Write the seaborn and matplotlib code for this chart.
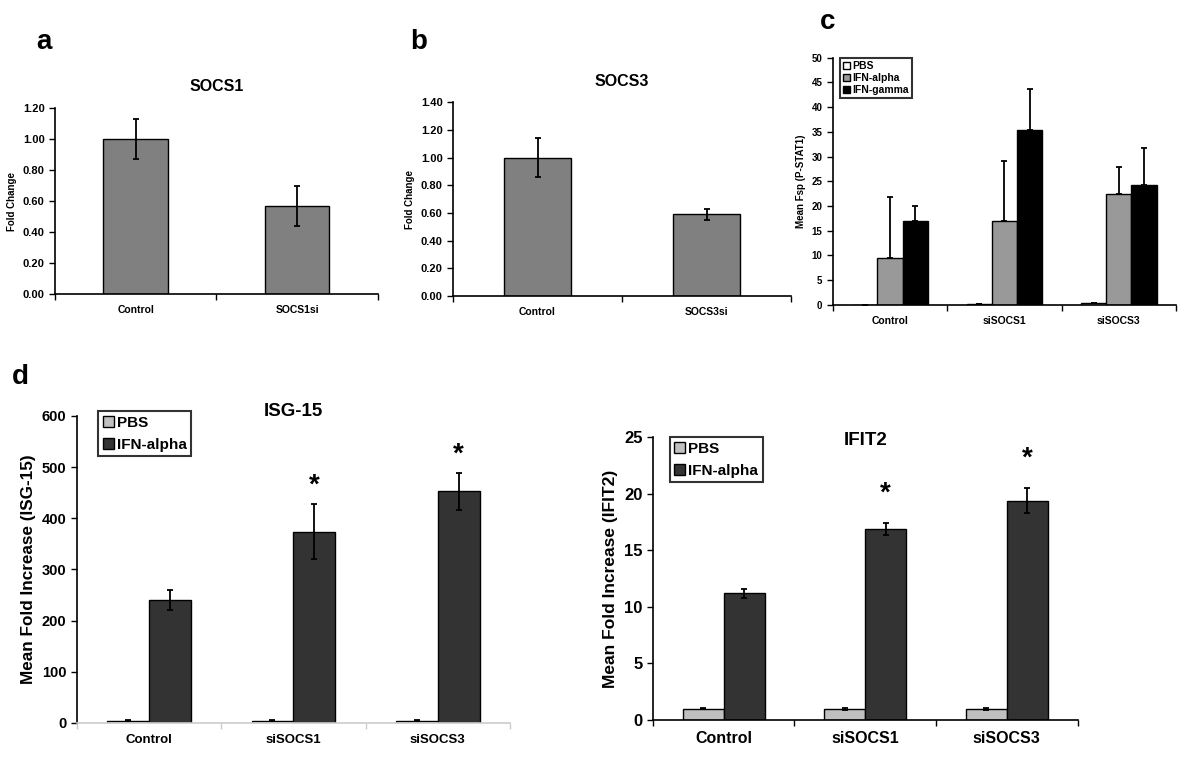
import matplotlib
matplotlib.use('Agg')
import matplotlib.pyplot as plt
import seaborn as sns
import pandas as pd
import numpy as np

sns.set_style('ticks', {'text.color': 'black', 'axes.labelcolor': 'black',
                        'xtick.color': 'black', 'ytick.color': 'black', 'axes.edgecolor': 'black'})
plt.rcParams['font.family'] = ['Liberation Sans', 'DejaVu Sans']
plt.rcParams['font.weight'] = 'bold'

# panel a
a_groups = ['Control', 'SOCS1si']
a_means = [1.00, 0.57]
a_err = [0.13, 0.13]
# panel b
b_groups = ['Control', 'SOCS3si']
b_means = [1.00, 0.59]
b_err = [0.14, 0.04]
# panel c
c_groups = ['Control', 'siSOCS1', 'siSOCS3']
c_treat = ['PBS', 'IFN-alpha', 'IFN-gamma']
c_pbs = [0.0, 0.1, 0.3]
c_alpha = [9.4, 17.0, 22.4]
c_gamma = [16.9, 35.3, 24.2]
c_pbs_err = [0.0, 0.0, 0.0]
c_alpha_err = [12.5, 12.2, 5.4]
c_gamma_err = [3.0, 8.4, 7.6]
# panel d
d_groups = ['Control', 'siSOCS1', 'siSOCS3']
d_treat = ['PBS', 'IFN-alpha']
isg_pbs = [4, 4, 4]
isg_alpha = [240, 374, 453]
isg_pbs_err = [1, 1, 1]
isg_alpha_err = [19, 54, 36]
ifit_pbs = [1.0, 1.0, 1.0]
ifit_alpha = [11.2, 16.9, 19.4]
ifit_pbs_err = [0.05, 0.1, 0.08]
ifit_alpha_err = [0.4, 0.5, 1.1]
star_flags = [False, True, True]


def style_axis(ax, n, tick_fs, xfs, bottom_color='black'):
    sns.despine(ax=ax)
    ax.spines['left'].set_linewidth(1.2)
    ax.spines['bottom'].set_linewidth(1.2)
    ax.spines['bottom'].set_color(bottom_color)
    ax.set_xlim(-0.5, n - 0.5)
    ax.set_xticks(np.arange(-0.5, n), minor=True)
    ax.tick_params(axis='x', which='major', length=0, labelsize=xfs, pad=8)
    ax.tick_params(axis='x', which='minor', bottom=True, length=4, direction='out', width=1, color=bottom_color)
    ax.tick_params(axis='y', length=4, direction='out', width=1, labelsize=tick_fs, left=True)
    for lab in ax.get_xticklabels() + ax.get_yticklabels():
        lab.set_fontweight('bold')
    ax.set_xlabel('')


def add_errors(ax, means, errs, upper_only=False):
    for cont, m, e in zip(ax.containers, means, errs):
        xs = [p.get_x() + p.get_width() / 2 for p in cont.patches]
        e = np.array(e)
        yerr = [np.zeros_like(e), e] if upper_only else e
        ax.errorbar(xs, m, yerr=yerr, fmt='none', ecolor='black', elinewidth=1.3, capsize=2.5, capthick=1.3, zorder=5)


def legend_box(ax, labels, colors, fs, loc_anchor, spacing=0.2):
    handles = [plt.Rectangle((0, 0), 1, 1, facecolor=c, edgecolor='black', lw=1) for c in colors]
    leg = ax.legend(handles, labels, loc='upper left', bbox_to_anchor=loc_anchor, fontsize=fs, frameon=True,
                    fancybox=False, handlelength=0.7, handleheight=0.7, handletextpad=0.2,
                    labelspacing=spacing, borderpad=0.3, borderaxespad=0)
    leg.get_frame().set_edgecolor('black')
    leg.get_frame().set_linewidth(1.5)
    for t in leg.get_texts():
        t.set_fontweight('bold')


fig = plt.figure(figsize=(12, 7.6), dpi=100)

# ---- a ----
ax = fig.add_axes([0.0458, 0.613, 0.269, 0.245])
df = pd.DataFrame({'group': a_groups, 'value': a_means})
sns.barplot(data=df, x='group', y='value', color='#808080', saturation=1, width=0.4, edgecolor='black', linewidth=1, ax=ax)
add_errors(ax, [a_means], [a_err])
ax.set_ylim(0, 1.2)
ax.set_yticks(np.arange(0, 1.21, 0.2))
ax.set_yticklabels([f'{v:.2f}' for v in np.arange(0, 1.21, 0.2)])
style_axis(ax, 2, 8, 7.5)
ax.set_ylabel('Fold Change', fontsize=7, fontweight='bold')
ax.set_title('SOCS1', fontsize=11.5, fontweight='bold', pad=12)
fig.text(0.03, 0.935, 'a', fontsize=20, fontweight='bold')

# ---- b ----
ax = fig.add_axes([0.3775, 0.6105, 0.2817, 0.255])
df = pd.DataFrame({'group': b_groups, 'value': b_means})
sns.barplot(data=df, x='group', y='value', color='#808080', saturation=1, width=0.4, edgecolor='black', linewidth=1, ax=ax)
add_errors(ax, [b_means], [b_err])
ax.set_ylim(0, 1.4)
ax.set_yticks(np.arange(0, 1.41, 0.2))
ax.set_yticklabels([f'{v:.2f}' for v in np.arange(0, 1.41, 0.2)])
style_axis(ax, 2, 8, 7.5)
ax.set_ylabel('Fold Change', fontsize=7, fontweight='bold')
ax.set_title('SOCS3', fontsize=11.5, fontweight='bold', pad=12)
fig.text(0.342, 0.935, 'b', fontsize=20, fontweight='bold')

# ---- c ----
ax = fig.add_axes([0.694, 0.599, 0.286, 0.325])
df = pd.DataFrame({'group': c_groups * 3,
                   'treat': sum([[t] * 3 for t in c_treat], []),
                   'value': c_pbs + c_alpha + c_gamma})
c_colors = ['white', '#999999', 'black']
sns.barplot(data=df, x='group', y='value', hue='treat', palette=c_colors, saturation=1, width=0.66,
            edgecolor='black', linewidth=1, ax=ax)
add_errors(ax, [c_pbs, c_alpha, c_gamma], [c_pbs_err, c_alpha_err, c_gamma_err], upper_only=True)
ax.set_ylim(0, 50)
ax.set_yticks(np.arange(0, 51, 5))
style_axis(ax, 3, 7, 7.5)
ax.set_ylabel('Mean Fsp (P-STAT1)', fontsize=7, fontweight='bold')
legend_box(ax, c_treat, c_colors, 7.5, (0.02, 1.0))
fig.text(0.683, 0.962, 'c', fontsize=20, fontweight='bold')

# ---- d: ISG-15 ----
d_colors = ['#c0c0c0', '#333333']
ax = fig.add_axes([0.064, 0.0487, 0.361, 0.404])
df = pd.DataFrame({'group': d_groups * 2,
                   'treat': sum([[t] * 3 for t in d_treat], []),
                   'value': isg_pbs + isg_alpha})
sns.barplot(data=df, x='group', y='value', hue='treat', palette=d_colors, saturation=1, width=0.58,
            edgecolor='black', linewidth=1, ax=ax)
add_errors(ax, [isg_pbs, isg_alpha], [isg_pbs_err, isg_alpha_err])
ax.set_ylim(0, 600)
ax.set_yticks(np.arange(0, 601, 100))
style_axis(ax, 3, 10.5, 9.5, bottom_color='#cccccc')
ax.set_ylabel('Mean Fold Increase (ISG-15)', fontsize=12.3, fontweight='bold')
ax.set_title('ISG-15', fontsize=13.5, fontweight='bold', y=1.016, va='center', pad=0)
legend_box(ax, d_treat, d_colors, 11, (0.05, 1.015), spacing=0.5)
for cont_x, m, e, s in zip(ax.containers[1].patches, isg_alpha, isg_alpha_err, star_flags):
    if s:
        ax.annotate('*', (cont_x.get_x() + cont_x.get_width() / 2, m + e), xytext=(0, 4),
                    textcoords='offset points', ha='center', va='bottom', fontsize=20, fontweight='bold')
fig.text(0.01, 0.495, 'd', fontsize=20, fontweight='bold')

# ---- d: IFIT2 ----
ax = fig.add_axes([0.544, 0.0526, 0.354, 0.372])
df = pd.DataFrame({'group': d_groups * 2,
                   'treat': sum([[t] * 3 for t in d_treat], []),
                   'value': ifit_pbs + ifit_alpha})
sns.barplot(data=df, x='group', y='value', hue='treat', palette=d_colors, saturation=1, width=0.58,
            edgecolor='black', linewidth=1, ax=ax)
add_errors(ax, [ifit_pbs, ifit_alpha], [ifit_pbs_err, ifit_alpha_err])
ax.set_ylim(0, 25)
ax.set_yticks(np.arange(0, 26, 5))
style_axis(ax, 3, 12, 11.5)
ax.set_ylabel('Mean Fold Increase (IFIT2)', fontsize=12.5, fontweight='bold')
ax.set_title('IFIT2', fontsize=13.5, fontweight='bold', y=0.989, va='center', pad=0)
legend_box(ax, d_treat, d_colors, 11, (0.04, 1.0), spacing=0.5)
for cont_x, m, e, s in zip(ax.containers[1].patches, ifit_alpha, ifit_alpha_err, star_flags):
    if s:
        ax.annotate('*', (cont_x.get_x() + cont_x.get_width() / 2, m + e), xytext=(0, 12),
                    textcoords='offset points', ha='center', va='bottom', fontsize=20, fontweight='bold')

fig.savefig('out.png', dpi=100)
